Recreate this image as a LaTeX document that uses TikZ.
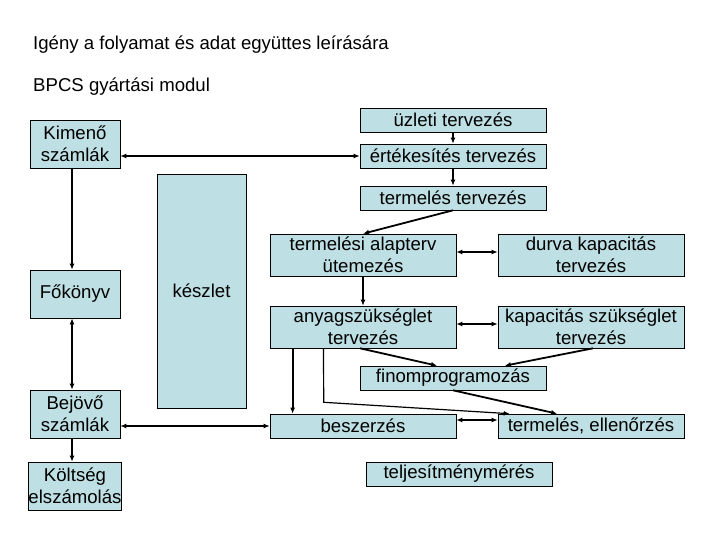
\documentclass[tikz,border=0pt]{standalone}
\usepackage{fontspec}
\setmainfont{Liberation Sans}
\usetikzlibrary{arrows.meta,positioning,calc}
\definecolor{bpBox}{HTML}{BEDFE3}

\begin{document}
\begin{tikzpicture}[x=1bp, y=-1bp,
  bx/.style={draw=black, line width=0.6pt, fill=bpBox, inner sep=0pt, align=center, font=\fontsize{18.6bp}{22bp}\selectfont, minimum width=186bp, minimum height=24bp},
  tall/.style={bx, minimum height=42bp},
  side/.style={bx, minimum width=90bp, minimum height=48bp},
  arr/.style={-{Latex[length=6bp,width=5bp]}, line width=1.8bp},
  dbl/.style={{Latex[length=6bp,width=5bp]}-{Latex[length=6bp,width=5bp]}, line width=1.8bp},
  ttl/.style={anchor=base west, inner sep=0pt, font=\fontsize{18.6bp}{22bp}\selectfont}]
\useasboundingbox (0,0) rectangle (720,540);
\node[ttl] (title) at (33,50) {Igény a folyamat és adat együttes leírására};
\node[ttl] (sub) at (33,92) {BPCS gyártási modul};

% bal oldali oszlop
\node[side] (kimeno) at (75,144) {Kimenő\\számlák};
\node[side] (fokonyv) at (75,294) {Főkönyv};
\node[side] (bejovo) at (75,414) {Bejövő\\számlák};
\node[side] (koltseg) at (75,486) {Költség\\elszámolás};
\node[bx, minimum width=89bp, minimum height=234bp] (keszlet) at (201.5,291) {készlet};

% tervezési lánc
\node[bx] (uzleti) at (453,120) {üzleti tervezés};
\node[bx] (ertek) at (453,156) {értékesítés tervezés};
\node[bx] (termterv) at (453,198) {termelés tervezés};
\node[tall] (alapterv) at (363,255) {termelési alapterv\\ütemezés};
\node[tall] (durva) at (591,255) {durva kapacitás\\tervezés};
\node[tall] (anyag) at (363,327) {anyagszükséglet\\tervezés};
\node[tall] (kapszuk) at (591,327) {kapacitás szükséglet\\tervezés};
\node[bx] (finom) at (453,378) {finomprogramozás};
\node[bx] (beszer) at (363,426) {beszerzés};
\node[bx] (termell) at (591,426) {termelés, ellenőrzés};
\node[bx] (teljes) at (459,474) {teljesítménymérés};

\foreach \a/\b in {uzleti/ertek,ertek/termterv,termterv/alapterv,alapterv/anyag}{\draw[arr] (\a.south) -- (\b.north);}
\draw[arr] ([xshift=-3]kimeno.south) -- ([xshift=-3]fokonyv.north);
\draw[dbl] ([xshift=-3]fokonyv.south) -- ([xshift=-3]bejovo.north);
\draw[arr] ([xshift=-3]bejovo.south) -- ([xshift=-3]koltseg.north);
\draw[dbl] (kimeno.east |- ertek.west) -- (ertek.west);
\draw[dbl] (bejovo.east |- beszer.west) -- (beszer.west);
\draw[dbl] ([yshift=3]alapterv.east) -- ([yshift=3]durva.west);
\draw[dbl] ([yshift=3]anyag.east) -- ([yshift=3]kapszuk.west);
\draw[dbl] ([yshift=6]beszer.east) -- ([yshift=6]termell.west);
\draw[arr] ([xshift=-3]anyag.south) -- ([xshift=-16]finom.north);
\draw[arr] ([xshift=2]kapszuk.south) -- ([xshift=52]finom.north);
\draw[arr] (finom.south) -- ([xshift=-34]termell.north);
\draw[arr] ([xshift=23]anyag.south west) -- ([xshift=23]anyag.south west |- beszer.north);
\coordinate (kanyar) at ($(anyag.south west)+(54,54)$);
\draw[arr, line width=1.2bp] ([xshift=54]anyag.south west) -- (kanyar) -- ([xshift=12]termell.north west);
\end{tikzpicture}
\end{document}
